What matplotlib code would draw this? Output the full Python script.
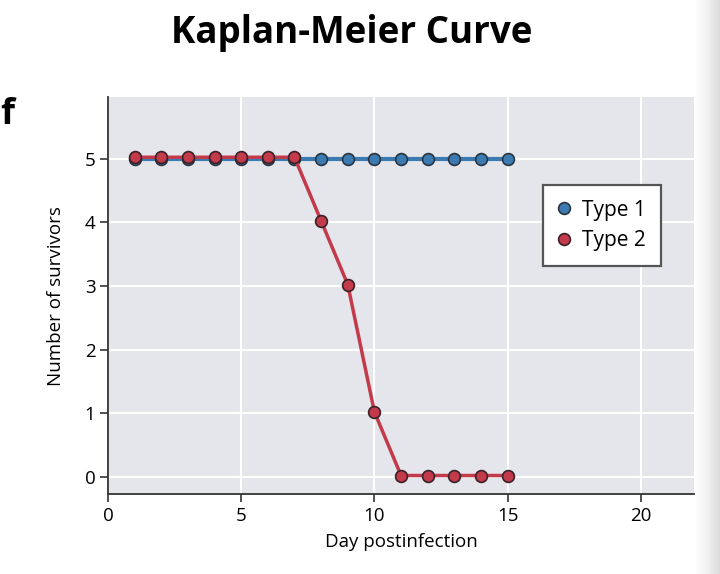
import numpy as np
import matplotlib.pyplot as plt
import matplotlib.transforms as mtransforms
from matplotlib.colors import LinearSegmentedColormap

days = [1, 2, 3, 4, 5, 6, 7, 8, 9, 10, 11, 12, 13, 14, 15]
type1 = [5, 5, 5, 5, 5, 5, 5, 5, 5, 5, 5, 5, 5, 5, 5]
type2 = [5, 5, 5, 5, 5, 5, 5, 4, 3, 1, 0, 0, 0, 0, 0]

plt.rcParams['font.family'] = ['Open Sans', 'DejaVu Sans']

fig = plt.figure(figsize=(7.2, 5.74), dpi=100)
ax = fig.add_axes([0.15, 0.139, 0.814, 0.692])
ax.set_facecolor('#e4e6eb')

blue = '#3b7bb1'
red = '#c33a4b'
ax.plot(days, type1, '-o', color=blue, lw=3, ms=8.5, mfc=blue, mec='#2a3440', mew=1.2,
        label='Type 1', zorder=3)
# red sits a hair above the blue where they overlap
shift = mtransforms.offset_copy(ax.transData, fig=fig, x=0, y=1.5, units='dots')
ax.plot(days, type2, '-o', color=red, lw=2.5, ms=8.5, mfc=red, mec='#3a2228', mew=1.2,
        label='Type 2', zorder=4, transform=shift)

ax.set_xlim(0, 22)
ax.set_ylim(-0.27, 5.97)
ax.set_xticks([0, 5, 10, 15, 20])
ax.set_yticks([0, 1, 2, 3, 4, 5])
ax.grid(True, color='white', lw=1.5)
ax.set_axisbelow(True)
for s in ['top', 'right']:
    ax.spines[s].set_visible(False)
for s in ['left', 'bottom']:
    ax.spines[s].set_color('#333333')
    ax.spines[s].set_linewidth(1.3)
ax.tick_params(direction='out', length=6, width=1.2, color='#333333', labelsize=13.5, pad=3)
ax.set_xlabel('Day postinfection', fontsize=13.5, labelpad=6)
ax.set_ylabel('Number of survivors', fontsize=13.5, labelpad=14)

leg = ax.legend(loc='upper left', bbox_to_anchor=(0.742, 0.778), borderaxespad=0,
                fontsize=15, fancybox=False, framealpha=1, edgecolor='#555555',
                handlelength=0.6, handletextpad=0.6, borderpad=0.7, labelspacing=0.45)
leg.get_frame().set_linewidth(1.6)
for h in leg.legend_handles:
    h.set_linestyle('none')
    h.set_markersize(8.5)

fig.text(0.489, 0.942, 'Kaplan-Meier Curve', ha='center', va='center', fontsize=26.5,
         fontweight='bold')
fig.text(0.001, 0.80, 'f', ha='left', va='center', fontsize=26, fontweight='bold')

# light grey shadow strip at the right edge
shade = LinearSegmentedColormap.from_list('shade', ['#ffffff', '#f0f0f0', '#dadada'])
grad = np.linspace(0, 1, 50).reshape(1, -1)
gax = fig.add_axes([0.965, 0, 0.035, 1])
gax.imshow(grad, aspect='auto', cmap=shade)
gax.axis('off')

fig.savefig('out.png', dpi=100)
